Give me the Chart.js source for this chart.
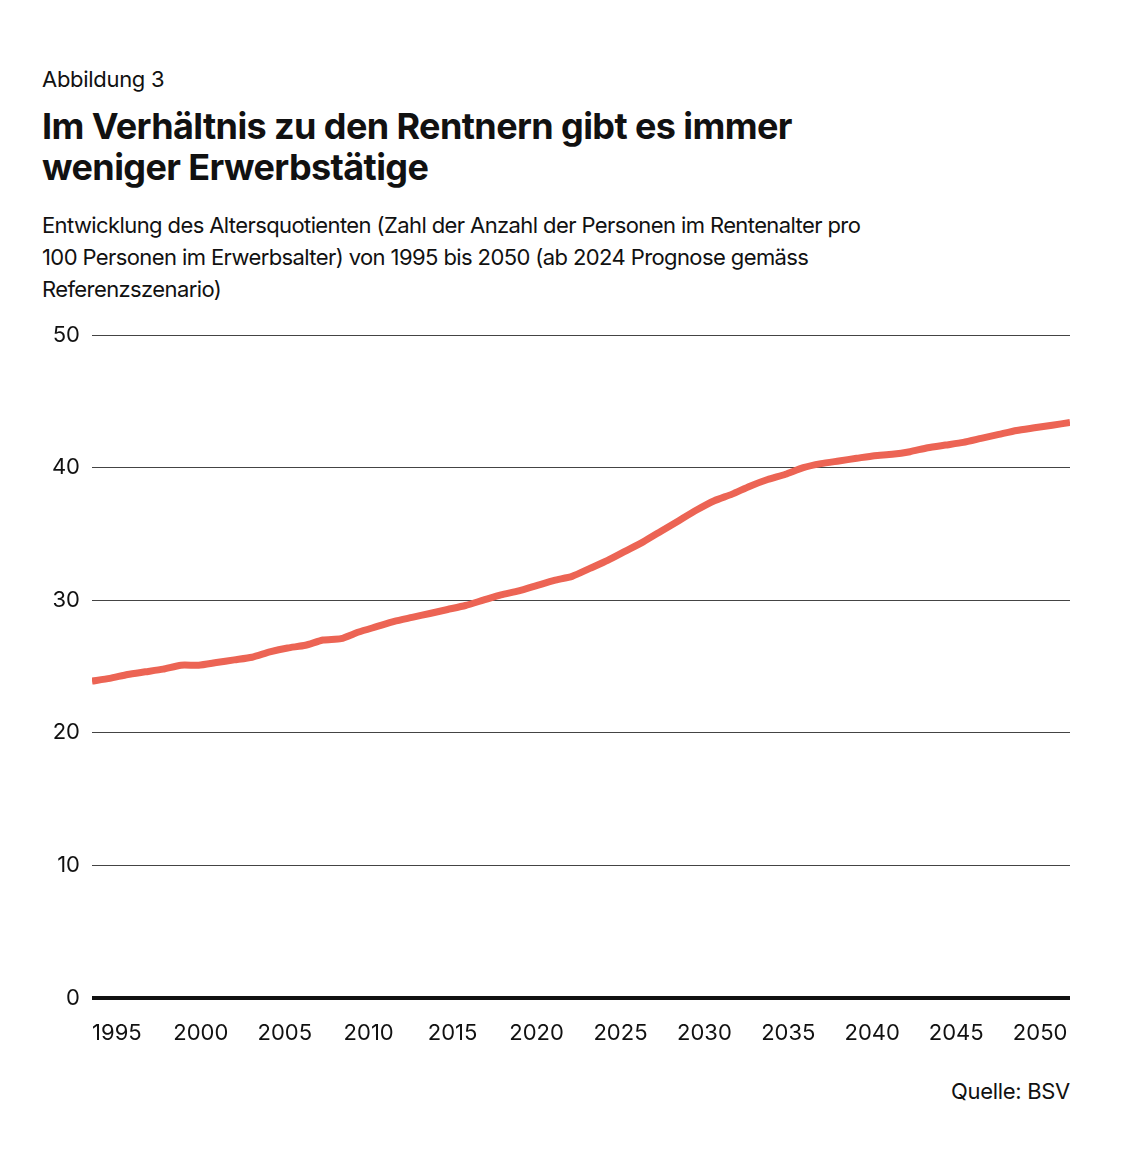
<!DOCTYPE html>
<html><head><meta charset="utf-8">
<script src="https://cdn.jsdelivr.net/npm/chart.js@4"></script>
<style>
body{margin:0;background:#fff;font-family:Inter,"Noto Sans",sans-serif;color:#111}
#wrap{position:relative;width:1138px;height:1165px}
canvas{position:absolute;left:0;top:0}
.t{position:absolute;left:42px}
</style></head><body>
<div id="wrap">
<div class="t" style="top:66px;font-size:22px;letter-spacing:-0.3px">Abbildung 3</div>
<div class="t" style="top:106px;font-size:36px;font-weight:700;line-height:41px;letter-spacing:-0.6px">Im Verhältnis zu den Rentnern gibt es immer<br>weniger Erwerbstätige</div>
<div class="t" style="top:209px;font-size:22px;line-height:32px;width:960px;letter-spacing:-0.6px">Entwicklung des Altersquotienten (Zahl der Anzahl der Personen im Rentenalter pro<br>100 Personen im Erwerbsalter) von 1995 bis 2050 (ab 2024 Prognose gemäss<br>Referenzszenario)</div>
<div style="position:absolute;right:68px;top:1078px;font-size:22px;letter-spacing:-0.3px">Quelle: BSV</div>
<canvas id="c" width="1138" height="1165"></canvas>
</div>
<script>
const years = [];
for (let y = 1995; y <= 2050; y++) years.push(y);
const quotient = [23.9,24.1,24.4,24.6,24.8,25.1,25.1,25.3,25.5,25.7,26.1,26.4,26.6,27.0,27.1,27.6,28.0,28.4,28.7,29.0,29.3,29.6,30.0,30.4,30.7,31.1,31.5,31.8,32.4,33.0,33.7,34.4,35.2,36.0,36.8,37.5,38.0,38.6,39.1,39.5,40.0,40.3,40.5,40.7,40.9,41.0,41.2,41.5,41.7,41.9,42.2,42.5,42.8,43.0,43.2,43.4];
const tickLabels = [1995,2000,2005,2010,2015,2020,2025,2030,2035,2040,2045,2050];
const yTicks = [0,10,20,30,40,50];

new Chart(document.getElementById("c"), {
    type: "line",
    data: {
        datasets: [{
            data: years.map((y, i) => ({x: y, y: quotient[i]})),
            borderColor: "#ec6454",
            borderWidth: 7,
            pointRadius: 0,
            tension: 0.2
        }]
    },
    options: {
        responsive: false,
        animation: false,
        layout: {padding: {left: 40, right: 68, top: 335, bottom: 107}},
        plugins: {legend: {display: false}, tooltip: {enabled: false}},
        scales: {
            x: {
                type: "linear", min: 1995, max: 2050,
                afterFit: s => { s.height = 60; },
                afterBuildTicks: s => {
                    s.ticks = tickLabels.map((v, i) => ({value: 1996.4 + 4.72 * i, label: String(v)}));
                },
                ticks: {autoSkip: false, maxRotation: 0, padding: 14, color: "#111", font: {family: "Inter", size: 22},
                    callback: (v, i) => String(tickLabels[i])},
                grid: {display: false}, border: {display: false}
            },
            y: {
                min: 0, max: 50,
                afterFit: s => { s.width = 52; },
                afterBuildTicks: s => { s.ticks = yTicks.map(v => ({value: v})); },
                ticks: {padding: 12, color: "#111", font: {family: "Inter", size: 22}},
                grid: {
                    color: c => c.tick.value === 0 ? "#111" : "#444",
                    lineWidth: c => c.tick.value === 0 ? 4 : 1,
                    drawTicks: false
                },
                border: {display: false}
            }
        }
    }
});
</script>
</body></html>
